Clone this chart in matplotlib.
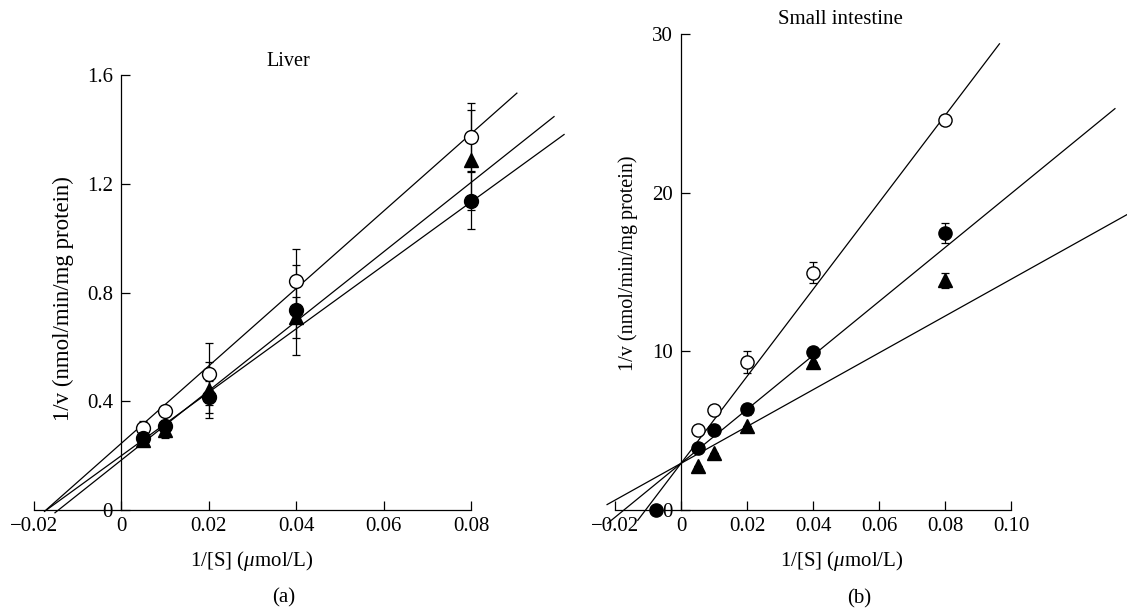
import matplotlib
matplotlib.use("Agg")
import matplotlib.pyplot as plt
import numpy as np

plt.rcParams['font.family'] = ['Liberation Serif', 'DejaVu Serif']
plt.rcParams['mathtext.fontset'] = 'custom'
plt.rcParams['mathtext.rm'] = 'Liberation Serif'
plt.rcParams['mathtext.it'] = 'Liberation Serif:italic'

# ---------------- data ----------------
inv_s = [0.005, 0.01, 0.02, 0.04, 0.08]

# Panel (a) Liver
liver_open = [0.300, 0.365, 0.500, 0.842, 1.371]
liver_open_err = [0.028, 0.0, 0.113, 0.118, 0.125]
liver_filled = [0.264, 0.310, 0.417, 0.736, 1.138]
liver_filled_err = [0.02, 0.02, 0.059, 0.165, 0.105]
liver_tri = [0.257, 0.294, 0.441, 0.709, 1.287]
liver_tri_err = [0.02, 0.03, 0.104, 0.075, 0.184]
# fitted lines: open, filled, triangle
liver_slope = [14.23, 11.66, 12.76]
liver_icpt = [0.2455, 0.200, 0.1838]
liver_x0 = [-0.0172, -0.0176, -0.0152]
liver_x1 = [0.0905, 0.1013, 0.0990]

# Panel (b) Small intestine
int_open = [5.04, 6.30, 9.33, 14.96, 24.57]
int_open_err = [0.0, 0.0, 0.70, 0.65, 0.0]
int_filled = [3.89, 5.04, 6.34, 9.98, 17.47]
int_filled_err = [0.0, 0.0, 0.35, 0.0, 0.64]
int_tri = [2.77, 3.61, 5.32, 9.35, 14.47]
int_tri_err = [0.0, 0.0, 0.0, 0.0, 0.45]
int_extra_x = [-0.0075]
int_extra_y = [0.0]
int_slope = [274.0, 170.0, 116.0]
int_icpt = [2.94, 2.94, 2.94]
int_x0 = [-0.0131, -0.0222, -0.0224]
int_x1 = [0.0965, 0.1315, 0.1352]

W, H = 1127, 612
fig = plt.figure(figsize=(W / 100, H / 100), dpi=100)

TICK_FS = 15


def px_axes(x0, x1, y_top, y_bot):
    return fig.add_axes([x0 / W, 1 - y_bot / H, (x1 - x0) / W, (y_bot - y_top) / H])


def style(ax, fs):
    ax.spines['top'].set_visible(False)
    ax.spines['right'].set_visible(False)
    ax.spines['left'].set_position(('data', 0))
    ax.spines['bottom'].set_position(('data', 0))
    for s in ('left', 'bottom'):
        ax.spines[s].set_linewidth(0.9)
    ax.tick_params(direction='in', length=6.5, width=0.9, labelsize=fs)
    ax.tick_params(axis='x', pad=5)
    ax.tick_params(axis='y', pad=6)
    ax.patch.set_visible(False)


def fmt(v):
    s = ('%g' % v)
    return s.replace('-', '\u2212')


def draw(ax, open_y, open_e, fil_y, fil_e, tri_y, tri_e, slopes, icpts, x0s, x1s, ms):
    for m, b, a0, a1 in zip(slopes, icpts, x0s, x1s):
        xx = np.array([a0, a1])
        ax.plot(xx, m * xx + b, color='black', lw=0.9, clip_on=False, zorder=2)
    for y, e, kw in [
        (open_y, open_e, dict(marker='o', mfc='white', mec='black')),
        (tri_y, tri_e, dict(marker='^', mfc='black', mec='black')),
        (fil_y, fil_e, dict(marker='o', mfc='black', mec='black')),
    ]:
        ax.errorbar(inv_s, y, yerr=e, fmt='none', ecolor='black', elinewidth=0.9,
                    capsize=3, capthick=0.9, zorder=3, clip_on=False)
        ax.plot(inv_s, y, ls='none', ms=ms, mew=1.0, zorder=4, clip_on=False, **kw)


# ---- Panel (a)
axa = px_axes(34, 471, 75, 510)
axa.set_xlim(-0.02, 0.08)
axa.set_ylim(0, 1.6)
style(axa, TICK_FS)
xt = [-0.02, 0, 0.02, 0.04, 0.06, 0.08]
axa.set_xticks(xt)
axa.set_xticklabels([fmt(v) for v in xt])
yt = [0, 0.4, 0.8, 1.2, 1.6]
axa.set_yticks(yt)
axa.set_yticklabels([fmt(v) for v in yt])
draw(axa, liver_open, liver_open_err, liver_filled, liver_filled_err,
     liver_tri, liver_tri_err, liver_slope, liver_icpt, liver_x0, liver_x1, 10)

# ---- Panel (b)
axb = px_axes(615, 1011, 34, 510)
axb.set_xlim(-0.02, 0.10)
axb.set_ylim(0, 30)
style(axb, TICK_FS)
xt = [-0.02, 0, 0.02, 0.04, 0.06, 0.08, 0.10]
axb.set_xticks(xt)
axb.set_xticklabels(['\u22120.02', '0', '0.02', '0.04', '0.06', '0.08', '0.10'])
yt = [0, 10, 20, 30]
axb.set_yticks(yt)
axb.set_yticklabels([fmt(v) for v in yt])
draw(axb, int_open, int_open_err, int_filled, int_filled_err,
     int_tri, int_tri_err, int_slope, int_icpt, int_x0, int_x1, 9.5)
axb.plot(int_extra_x, int_extra_y, ls='none', marker='o', ms=9.5, mfc='black',
         mec='black', zorder=5, clip_on=False)


def ftext(x, y, s, **kw):
    fig.text(x / W, 1 - y / H, s, ha='center', va='center', **kw)


ftext(288, 61, 'Liver', fontsize=14.5)
ftext(252, 561, '1/[S] ($\\mu$mol/L)', fontsize=15)
ftext(284, 598, '(a)', fontsize=15)
ftext(63, 299, '1/v (nmol/min/mg protein)', fontsize=16.5, rotation=90)

ftext(840, 19, 'Small intestine', fontsize=15)
ftext(842, 561, '1/[S] ($\\mu$mol/L)', fontsize=15)
ftext(859, 599, '(b)', fontsize=15)
ftext(628, 263, '1/v (nmol/min/mg protein)', fontsize=14.5, rotation=90)

fig.savefig('out.png', dpi=100)
